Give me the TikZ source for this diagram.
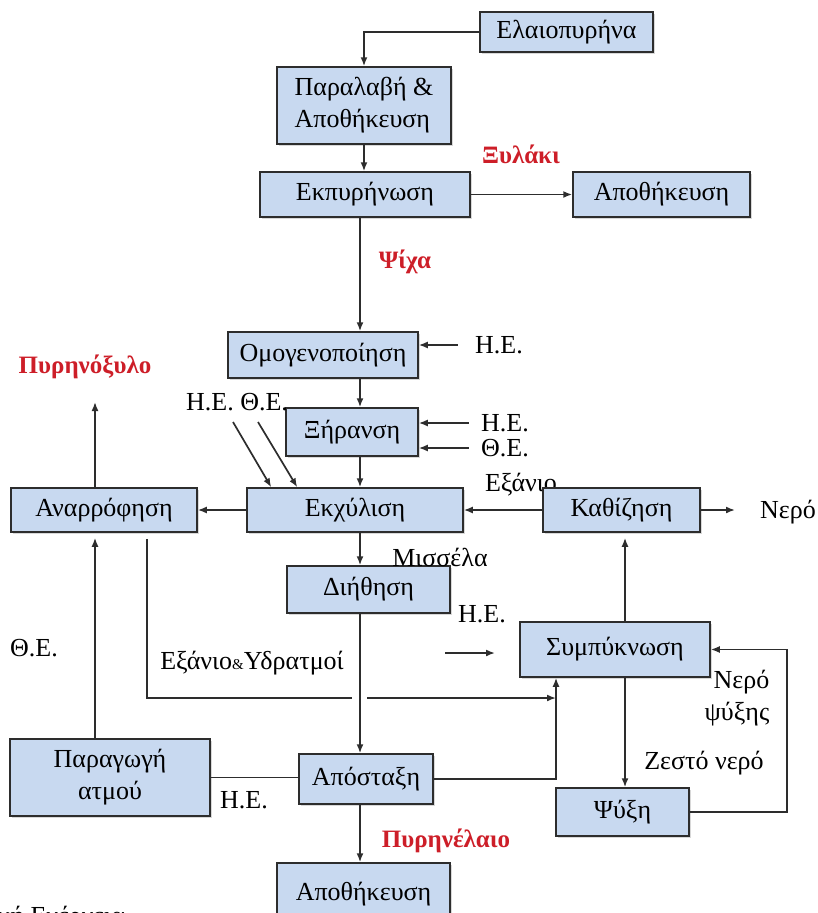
\documentclass[tikz,border=0pt]{standalone}
\usepackage{fontspec}
\setmainfont{Liberation Serif}
\usetikzlibrary{arrows.meta,calc,positioning,shadows}
\definecolor{BoxBlue}{RGB}{200,217,240}
\definecolor{LineGray}{RGB}{45,45,45}
\definecolor{LabelRed}{RGB}{205,30,40}

\begin{document}
\begin{tikzpicture}[x=1pt,y=-1pt,>={Latex[length=9pt,width=7pt]},
    every node/.style={font=\fontsize{26}{32}\selectfont},
    proc/.style={draw=LineGray,line width=1.5pt,fill=BoxBlue,inner sep=2pt,align=center,
      drop shadow={shadow xshift=1.5pt,shadow yshift=-1.5pt,fill=black!30}},
    flow/.style={LineGray,line width=1.7pt},
    prod/.style={text=LabelRed,font=\fontsize{25}{31}\selectfont\bfseries}]
        \useasboundingbox (0,0) rectangle (817,913);
        \clip (0,0) rectangle (817,913);
        % labels lying under the boxes
        \node (hex) at (521,485) {Εξάνιο};
        % process boxes
        \node[proc,minimum width=173pt,minimum height=40pt] (olive) at (566.5,32) {Ελαιοπυρήνα};
        \node[proc,minimum width=174pt,minimum height=77pt,align=left] (recv) at (364,105.5) {Παραλαβή \&\\Αποθήκευση};
        \node[proc,minimum width=210pt,minimum height=45pt] (pit) at (365,194.5) {Εκπυρήνωση};
        \node[proc,minimum width=177pt,minimum height=45pt] (store1) at (661.5,194.5) {Αποθήκευση};
        \node[proc,minimum width=190pt,minimum height=46pt] (homog) at (323,355) {Ομογενοποίηση};
        \node[proc,minimum width=132pt,minimum height=48pt] (dry) at (352,432) {Ξήρανση};
        \node[proc,minimum width=186pt,minimum height=44pt] (suck) at (104,510) {Αναρρόφηση};
        \node[proc,minimum width=216pt,minimum height=44pt] (extr) at (355,510) {Εκχύλιση};
        \node[proc,minimum width=157pt,minimum height=44pt] (settle) at (621.5,510) {Καθίζηση};
        \node[proc,minimum width=163pt,minimum height=47pt] (filt) at (368.5,589.5) {Διήθηση};
        \node[proc,minimum width=190pt,minimum height=55pt] (cond) at (615,649.5) {Συμπύκνωση};
        \node[proc,minimum width=200pt,minimum height=77pt] (steam) at (110,777.5) {Παραγωγή\\ατμού};
        \node[proc,minimum width=134pt,minimum height=50pt] (dist) at (366,779) {Απόσταξη};
        \node[proc,minimum width=133pt,minimum height=48pt] (cool) at (622.5,812) {Ψύξη};
        \node[proc,minimum width=173pt,minimum height=62pt] (store2) at (363.5,894) {Αποθήκευση};
        % products
        \node[prod] (xyl) at (521,154) {Ξυλάκι};
        \node[prod] (psi) at (405,262) {Ψίχα};
        \node[prod] (pyrx) at (85,367) {Πυρηνόξυλο};
        \node[prod] (pyrel) at (446,841) {Πυρηνέλαιο};
        % energy and stream labels
        \node (heA) at (499,345) {Η.Ε.};
        \node[inner sep=0.5pt] (heB) at (505,423) {Η.Ε.};
        \node[inner sep=0.5pt] (thB) at (505,448) {Θ.Ε.};
        \node (heth) at (237,402) {Η.Ε. Θ.Ε.};
        \node (water) at (788,512) {Νερό};
        \node (miss) at (440,557) {Μισσέλα};
        \node (heC) at (482,614) {Η.Ε.};
        \node (thL) at (34,648) {Θ.Ε.};
        \node (hexv) at (252,663) {Εξάνιο{\fontsize{15}{17}\selectfont\&}Υδρατμοί};
        \node[align=right] (cw) at (737,698) {Νερό\\ψύξης};
        \node (hw) at (704,763) {Ζεστό νερό};
        \node (heD) at (244,800) {Η.Ε.};
        \node[anchor=north east,inner sep=0pt] (thE) at (125,906) {Θερμική Ενέργεια};
        % helper points
        \coordinate (colM) at (360,0);
        \coordinate (colL) at (95,0);
        \coordinate (colR) at (556,0);
        \coordinate (colS) at (625,0);
        \coordinate (loopR) at (787,0);
        \coordinate (pyrTip) at (95,402);
        \coordinate (diagA) at (233,422);
        \coordinate (diagB) at (258,422);
        \coordinate (vapA) at (352,698);
        \coordinate (vapB) at (367,698);
        \coordinate (heIn) at (445,653);
        \coordinate (waterTip) at (735,510);
        % main line
        \draw[flow,->] (olive.west) -| (recv.north);
        \draw[flow,->] (recv.south) -- (recv.south |- pit.north);
        \draw[flow,->] (pit.east) -- (pit.east -| store1.west);
        \draw[flow,->] (colM |- pit.south) -- (colM |- homog.north);
        \draw[flow,->] (colM |- homog.south) -- (colM |- dry.north);
        \draw[flow,->] (colM |- dry.south) -- (colM |- extr.north);
        \draw[flow,->] (colM |- extr.south) -- (colM |- filt.north);
        \draw[flow,->] (colM |- filt.south) -- (colM |- dist.north);
        \draw[flow,->] (colM |- dist.south) -- (colM |- store2.north);
        % energy in
        \draw[flow,->,shorten <=14pt] (heA.west) -- (heA.west -| homog.east);
        \draw[flow,->,shorten <=11.5pt] (heB.west) -- (heB.west -| dry.east);
        \draw[flow,->,shorten <=11.5pt] (thB.west) -- (thB.west -| dry.east);
        \draw[flow,->] (diagA) -- ([xshift=25pt]extr.north west);
        \draw[flow,->] (diagB) -- ([xshift=51pt]extr.north west);
        \draw[flow,->] (heIn) -- ++(50,0);
        \draw[flow] (steam.east) -- (steam.east -| dist.west);
        % solvent side
        \draw[flow,->] (extr.west) -- (extr.west -| suck.east);
        \draw[flow,->] (pyrTip |- suck.north) -- (pyrTip);
        \draw[flow,->,shorten >=5pt] (colL |- steam.north) -- (colL |- suck.south);
        \draw[flow,shorten <=6pt] ([xshift=43pt]suck.south) |- (vapA);
        \draw[flow,->] (vapB) -- (colR |- vapB);
        \draw[flow,->] (dist.east) -| (colR |- cond.south);
        \draw[flow,->,shorten >=5pt] (colS |- cond.north) -- (colS |- settle.south);
        \draw[flow,->] (settle.west) -- (settle.west -| extr.east);
        \draw[flow,->] (settle.east) -- (waterTip);
        % cooling water
        \draw[flow,->] (colS |- cond.south) -- (colS |- cool.north);
        \draw[flow,->] (cool.east) -| (loopR |- cond.east) -- (cond.east);
      \end{tikzpicture}
\end{document}
